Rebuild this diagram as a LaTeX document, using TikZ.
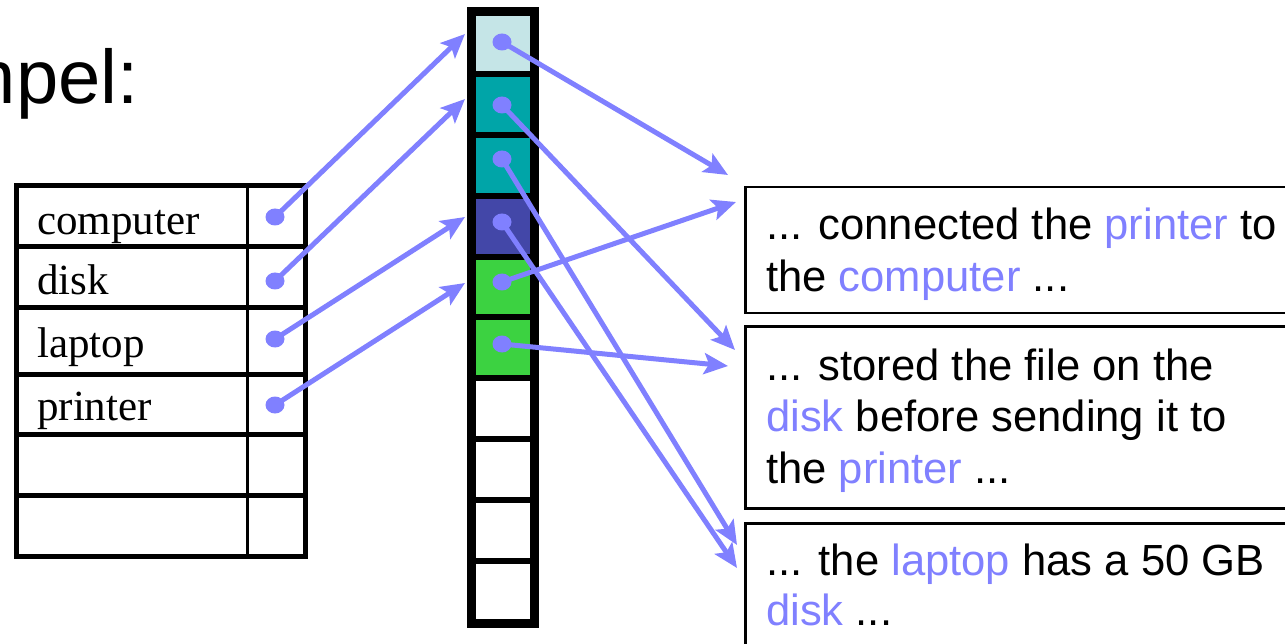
\documentclass[tikz,border=0pt]{standalone}
\usepackage{fontspec}
\setmainfont{Liberation Serif}
\setsansfont{Liberation Sans}
\usetikzlibrary{arrows.meta,shapes.geometric}
\definecolor{ptr}{RGB}{128,128,255}
\definecolor{cellA}{RGB}{197,229,231}
\definecolor{cellB}{RGB}{0,165,168}
\definecolor{cellC}{RGB}{67,71,168}
\definecolor{cellD}{RGB}{60,210,65}
\newcommand\kw[1]{\textcolor{ptr}{#1}}
\begin{document}
\begin{tikzpicture}[x=1pt,y=-1pt,
  arr/.style={draw=ptr, line width=5pt, -{Stealth[length=24pt,width=21pt,inset=5pt]}},
  dot/.style={ellipse, fill=ptr, minimum width=19pt, minimum height=17pt, inner sep=0pt},
  cell/.style={draw=black, line width=6pt, minimum width=60pt, minimum height=60.9pt, inner sep=0pt, anchor=north west},
  rule/.style={line width=5pt},
  keylabel/.style={anchor=base west, inner sep=0pt, font=\rmfamily\fontsize{43}{50}\selectfont},
  sentence/.style={anchor=base west, inner sep=0pt, font=\sffamily\fontsize{43.6}{52}\selectfont},
  textbox/.style={draw=black, line width=2.5pt, anchor=north west, minimum width=600pt, inner sep=0pt}
]
\useasboundingbox (0,0) rectangle (1285,644);
\clip (0,0) rectangle (1285,644);

% heading
\node[anchor=base east, inner sep=0pt, font=\sffamily\fontsize{76}{82}\selectfont] (title) at (139,104) {Exempel:};

% symbol table
\draw[rule] (16,186) rectangle (305,556);
\foreach \y in {247,308,374,434,495} \draw[rule] (16,\y) -- (305,\y);
\draw[line width=3pt] (247,186) -- (247,556);
\node[keylabel] (kcomputer) at (37,235) {computer};
\node[keylabel] (kdisk) at (37,295) {disk};
\node[keylabel] (klaptop) at (37,357) {laptop};
\node[keylabel] (kprinter) at (37,420) {printer};
\node[dot] (p1) at (275,217) {};
\node[dot] (p2) at (275,281) {};
\node[dot] (p3) at (275,339) {};
\node[dot] (p4) at (275,405) {};

% posting column
\node[cell, fill=cellA] (c1) at (470,10) {};
\node[cell, fill=cellB] (c2) at (470,70.9) {};
\node[cell, fill=cellB] (c3) at (470,131.8) {};
\node[cell, fill=cellC] (c4) at (470,192.7) {};
\node[cell, fill=cellD] (c5) at (470,253.6) {};
\node[cell, fill=cellD] (c6) at (470,314.5) {};
\node[cell] (c7) at (470,375.4) {};
\node[cell] (c8) at (470,436.3) {};
\node[cell] (c9) at (470,497.2) {};
\node[cell] (c10) at (470,558.1) {};
\draw[line width=6pt] (c1.north west) rectangle (c10.south east);
\node[dot] (m1) at (502,42) {};
\node[dot] (m2) at (502,105) {};
\node[dot] (m3) at (502,159) {};
\node[dot] (m4) at (502,222) {};
\node[dot] (m5) at (502,282) {};
\node[dot] (m6) at (502,344) {};

% documents
\node[textbox, minimum height=126pt] (box1) at (744,186) {};
\node[textbox, minimum height=182pt] (box2) at (744,325) {};
\node[textbox, minimum height=182pt] (box3) at (744,522) {};
\node[sentence] (s11) at (766,240) {... connected the \kw{printer} to};
\node[sentence] (s12) at (766,292) {the \kw{computer} ...};
\node[sentence] (s21) at (766,380) {... stored the file on the};
\node[sentence] (s22) at (766,431) {\kw{disk} before sending it to};
\node[sentence] (s23) at (766,483) {the \kw{printer} ...};
\node[sentence] (s31) at (766,575) {... the \kw{laptop} has a 50 GB};
\node[sentence] (s32) at (766,625) {\kw{disk} ...};

% arrow targets
\coordinate (t1) at (465,34);
\coordinate (t2) at (465,99);
\coordinate (t3) at (465,217);
\coordinate (t4) at (465,283);
\coordinate (u1) at (728,175);
\coordinate (u2) at (735,350);
\coordinate (u3) at (737,545);
\coordinate (u4) at (737,568);
\coordinate (u5) at (736,202);
\coordinate (u6) at (728,366);

% pointers
\draw[arr] (p1.center) -- (t1);
\draw[arr] (p2.center) -- (t2);
\draw[arr] (p3.center) -- (t3);
\draw[arr] (p4.center) -- (t4);
\draw[arr] (m1.center) -- (u1);
\draw[arr] (m2.center) -- (u2);
\draw[arr] (m3.center) -- (u3);
\draw[arr] (m4.center) -- (u4);
\draw[arr] (m5.center) -- (u5);
\draw[arr] (m6.center) -- (u6);
\end{tikzpicture}
\end{document}
